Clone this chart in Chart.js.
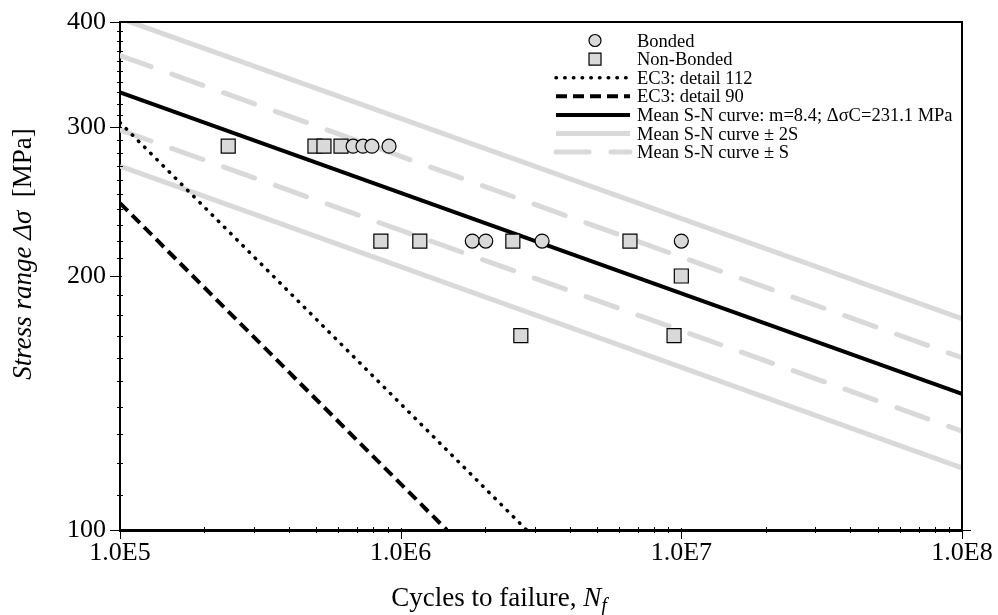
<!DOCTYPE html>
<html>
<head>
<meta charset="utf-8">
<script src="https://cdn.jsdelivr.net/npm/chart.js@4.4.1/dist/chart.umd.min.js"></script>
<style>
  html, body { margin: 0; padding: 0; background: #fff; }
  canvas { display: block; }
</style>
</head>
<body>
<canvas id="chart" width="998" height="615"></canvas>
<script>
// test results
const bondedCycles = [6.77e5, 7.34e5, 7.9e5, 9.09e5, 1.8e6, 2.01e6, 3.19e6, 1.0e7];
const bondedStress = [285, 285, 285, 285, 220, 220, 220, 220];
const nonBondedCycles = [2.43e5, 4.95e5, 5.33e5, 6.13e5, 8.5e5, 1.17e6, 2.51e6, 6.56e6, 1.0e7, 2.68e6, 9.42e6];
const nonBondedStress = [285, 285, 285, 285, 220, 220, 220, 220, 200, 170, 170];

// S-N lines (end points)
const lineCycles = [1e5, 1e8];
const meanStress = [330, 145];
const plus2SStress = [404, 178];
const minus2SStress = [270, 118.5];
const plusSStress = [365, 160];
const minusSStress = [298, 131];
const ec3d112Cycles = [1e5, 2.81e6];
const ec3d112Stress = [304, 100];
const ec3d90Cycles = [1e5, 1.46e6];
const ec3d90Stress = [244, 100];

const xTicks = [1e5, 1e6, 1e7, 1e8];
const xTickLabels = ["1.0E5", "1.0E6", "1.0E7", "1.0E8"];
const yTicks = [100, 200, 300, 400];
const yTickLabels = ["100", "200", "300", "400"];

const serif = '"Liberation Serif", "Times New Roman", serif';
const gray = "#d9d9d9";
const markerFill = "#d9d9d9";

const toPoints = (xs, ys) => xs.map((x, i) => ({ x: x, y: ys[i] }));

function lineSet(label, xs, ys, color, width, dash, cap) {
    return {
        label: label,
        data: toPoints(xs, ys),
        showLine: true,
        borderColor: color,
        borderWidth: width,
        borderDash: dash,
        borderCapStyle: cap || "butt",
        pointRadius: 0,
        fill: false,
        clip: 0,
    };
}

// ticks, frame, legend and axis titles
const decorations = {
    id: "decorations",
    afterDraw(chart) {
        const { ctx, chartArea: a, scales } = chart;
        const xs = scales.x, ys = scales.y;
        ctx.save();
        ctx.strokeStyle = "#000";

        ctx.lineWidth = 2;
        ctx.beginPath();
        ctx.moveTo(a.left, a.top);
        ctx.lineTo(a.right, a.top);
        ctx.lineTo(a.right, a.bottom);
        ctx.stroke();

        const seg = (x1, y1, x2, y2) => {
            ctx.beginPath();
            ctx.moveTo(x1, y1);
            ctx.lineTo(x2, y2);
            ctx.stroke();
        };

        ctx.lineWidth = 1;
        for (let v = 110; v < 400; v += 10) {
            if (v % 100 === 0) continue;
            const py = Math.round(ys.getPixelForValue(v)) + 0.5;
            seg(a.left - 3, py, a.left + 3, py);
        }
        yTicks.forEach(v => {
            const py = Math.round(ys.getPixelForValue(v)) + 0.5;
            seg(a.left - 10, py, a.left + 2, py);
        });
        for (let d = 1e5; d < 1e8; d *= 10) {
            for (let k = 2; k < 10; k++) {
                const px = Math.round(xs.getPixelForValue(d * k)) + 0.5;
                seg(px, a.bottom - 3, px, a.bottom + 3);
            }
        }
        xTicks.forEach(v => {
            const px = Math.round(xs.getPixelForValue(v)) + 0.5;
            seg(px, a.bottom - 2, px, a.bottom + 9);
        });
        seg(a.right, a.bottom + 0.5, a.right + 9, a.bottom + 0.5);

        // legend
        const rowY = 40.5, rowH = 18.6;
        const lx0 = 556, lx1 = 630, mx = 595, tx = 637;
        ctx.font = "18.5px " + serif;
        ctx.textBaseline = "alphabetic";
        ctx.textAlign = "left";
        chart.data.datasets.filter(ds => !ds.hideInLegend).forEach((ds, i) => {
            const cy = rowY + i * rowH;
            if (ds.showLine) {
                ctx.save();
                ctx.strokeStyle = ds.borderColor;
                ctx.lineWidth = ds.borderWidth;
                ctx.setLineDash(ds.borderDash || []);
                ctx.lineCap = ds.borderCapStyle || "butt";
                seg(lx0, cy, lx1, cy);
                ctx.restore();
            } else {
                ctx.save();
                ctx.fillStyle = ds.backgroundColor;
                ctx.strokeStyle = ds.borderColor;
                ctx.lineWidth = ds.borderWidth;
                ctx.beginPath();
                if (ds.pointStyle === "rect") {
                    ctx.rect(mx - 6, cy - 6, 12, 12);
                } else {
                    ctx.arc(mx, cy, 6, 0, Math.PI * 2);
                }
                ctx.fill();
                ctx.stroke();
                ctx.restore();
            }
            ctx.fillStyle = "#000";
            ctx.fillText(ds.label, tx, cy + 6);
        });

        // x axis title
        ctx.fillStyle = "#000";
        const fUp = "27px " + serif, fIt = "italic 27px " + serif, fSub = "italic 20px " + serif;
        const t1 = "Cycles to failure, ", t2 = "N", t3 = "f";
        ctx.font = fUp; const w1 = ctx.measureText(t1).width;
        ctx.font = fIt; const w2 = ctx.measureText(t2).width;
        ctx.font = fSub; const w3 = ctx.measureText(t3).width;
        let x0 = 499 - (w1 + w2 + w3) / 2;
        const by = 606;
        ctx.font = fUp; ctx.fillText(t1, x0, by);
        ctx.font = fIt; ctx.fillText(t2, x0 + w1, by);
        ctx.font = fSub; ctx.fillText(t3, x0 + w1 + w2, by + 6);

        // y axis title
        const s1 = "Stress range \u0394\u03c3", s2 = "  [MPa]";
        ctx.font = fIt; const v1 = ctx.measureText(s1).width;
        ctx.font = fUp; const v2 = ctx.measureText(s2).width;
        ctx.translate(31, 254 + (v1 + v2) / 2);
        ctx.rotate(-Math.PI / 2);
        ctx.font = fIt; ctx.fillText(s1, 0, 0);
        ctx.font = fUp; ctx.fillText(s2, v1, 0);
        ctx.restore();
    }
};

new Chart(document.getElementById("chart"), {
    type: "scatter",
    data: {
        datasets: [
            {
                label: "Bonded",
                data: toPoints(bondedCycles, bondedStress),
                pointStyle: "circle",
                pointRadius: 7,
                backgroundColor: markerFill,
                borderColor: "#000",
                borderWidth: 1.2,
            },
            {
                label: "Non-Bonded",
                data: toPoints(nonBondedCycles, nonBondedStress),
                pointStyle: "rect",
                pointRadius: 9.9,
                backgroundColor: markerFill,
                borderColor: "#000",
                borderWidth: 1.2,
            },
            lineSet("EC3: detail 112", ec3d112Cycles, ec3d112Stress, "#000", 3.5, [0.5, 8.2], "round"),
            lineSet("EC3: detail 90", ec3d90Cycles, ec3d90Stress, "#000", 4, [11, 6]),
            lineSet("Mean S-N curve: m=8.4; \u0394\u03c3C=231.1 MPa", lineCycles, meanStress, "#000", 4),
            lineSet("Mean S-N curve \u00b1 2S", lineCycles, plus2SStress, gray, 5),
            lineSet("Mean S-N curve \u00b1 S", lineCycles, plusSStress, gray, 5, [33, 22], "round"),
            Object.assign(lineSet("-2S", lineCycles, minus2SStress, gray, 5), { hideInLegend: true }),
            Object.assign(lineSet("-S", lineCycles, minusSStress, gray, 5, [33, 22], "round"), { hideInLegend: true }),
        ],
    },
    options: {
        responsive: false,
        animation: false,
        layout: { padding: { top: 22, right: 36, left: 0, bottom: 0 } },
        plugins: { legend: { display: false }, tooltip: { enabled: false } },
        scales: {
            x: {
                type: "logarithmic",
                min: 1e5,
                max: 1e8,
                bounds: "data",
                afterFit: s => { s.height = 85; s.paddingLeft = 0; s.paddingRight = 0; },
                afterBuildTicks: s => { s.ticks = xTicks.map(v => ({ value: v })); },
                grid: { display: false, drawTicks: false },
                border: { display: true, color: "#000", width: 3 },
                ticks: {
                    autoSkip: false,
                    maxRotation: 0,
                    padding: 8,
                    color: "#000",
                    font: { family: serif, size: 26 },
                    callback: (v, i) => xTickLabels[i],
                },
            },
            y: {
                type: "logarithmic",
                min: 100,
                max: 400,
                bounds: "data",
                afterFit: s => { s.width = 120; s.paddingTop = 0; s.paddingBottom = 0; },
                afterBuildTicks: s => { s.ticks = yTicks.map(v => ({ value: v })); },
                grid: { display: false, drawTicks: false },
                border: { display: true, color: "#000", width: 2 },
                ticks: {
                    autoSkip: false,
                    padding: 14,
                    color: "#000",
                    font: { family: serif, size: 26 },
                    callback: (v, i) => yTickLabels[i],
                },
            },
        },
    },
    plugins: [decorations],
});
</script>
</body>
</html>
